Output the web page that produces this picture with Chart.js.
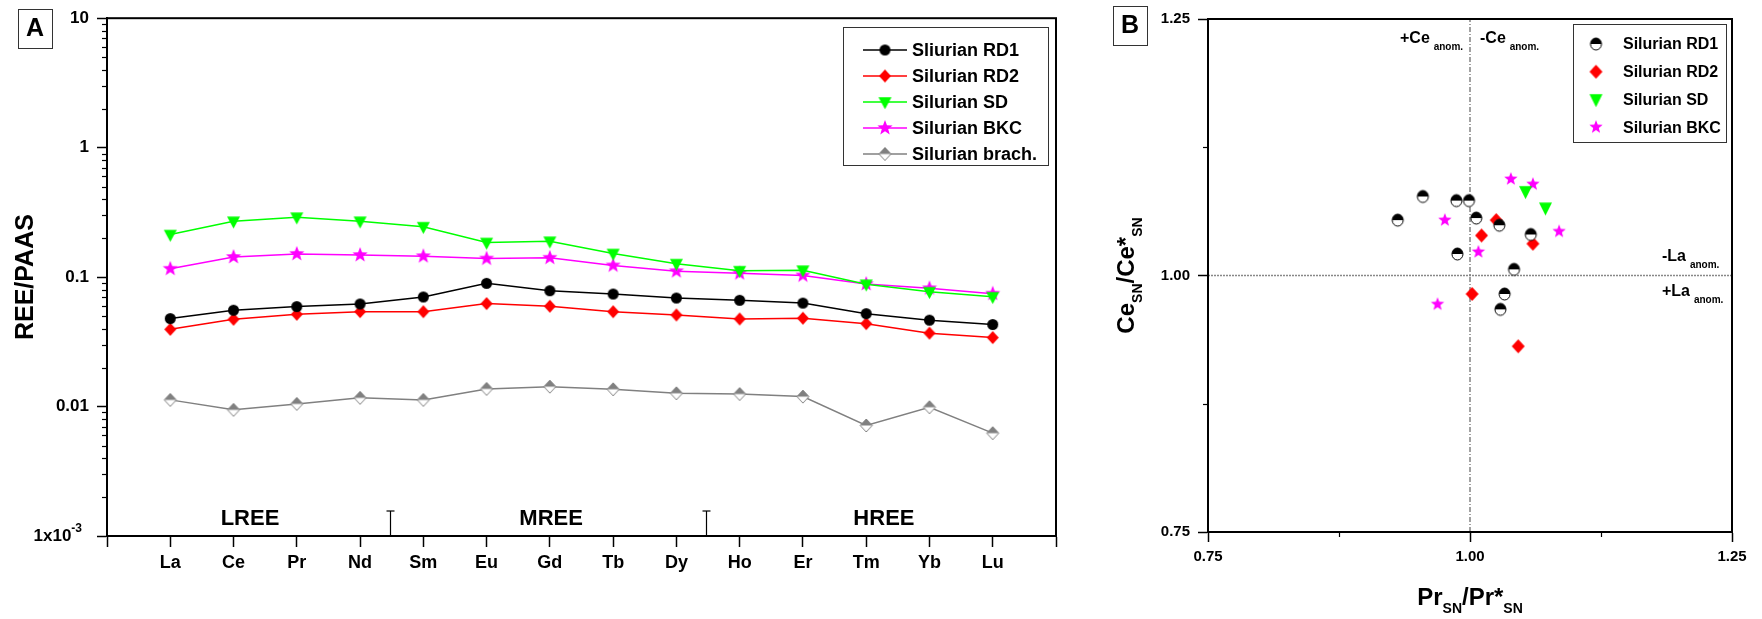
<!DOCTYPE html>
<html>
<head>
<meta charset="utf-8">
<script src="https://cdn.jsdelivr.net/npm/chart.js@4.4.1/dist/chart.umd.min.js"></script>
<style>
  body { margin: 0; background: #fff; }
  #wrap { position: relative; width: 1762px; height: 619px; }
  canvas { position: absolute; top: 0; }
  #chartA { left: 0; }
  #chartB { left: 1080px; }
</style>
</head>
<body>
<div id="wrap">
  <canvas id="chartA" width="1080" height="619"></canvas>
  <canvas id="chartB" width="682" height="619"></canvas>
</div>
<script>
// panel A: REE/PAAS patterns
const elements = ['La', 'Ce', 'Pr', 'Nd', 'Sm', 'Eu', 'Gd', 'Tb', 'Dy', 'Ho', 'Er', 'Tm', 'Yb', 'Lu'];
const rd1 = [0.0478, 0.0555, 0.0592, 0.062, 0.0702, 0.0895, 0.0785, 0.074, 0.0689, 0.0662, 0.063, 0.0522, 0.0465, 0.043];
const rd2 = [0.0395, 0.0472, 0.0516, 0.0541, 0.054, 0.0624, 0.0596, 0.054, 0.051, 0.0475, 0.0481, 0.0437, 0.0369, 0.0341];
const sd = [0.213, 0.27, 0.29, 0.27, 0.245, 0.185, 0.189, 0.152, 0.127, 0.112, 0.113, 0.088, 0.077, 0.0705];
const bkc = [0.116, 0.143, 0.151, 0.148, 0.145, 0.139, 0.141, 0.123, 0.111, 0.107, 0.103, 0.0885, 0.082, 0.0745];
const brach = [0.01126, 0.00943, 0.01048, 0.01167, 0.01126, 0.01368, 0.01425, 0.01359, 0.01266, 0.0125, 0.01194, 0.00714, 0.00988, 0.00623];
const yTicksA = [0.001, 0.01, 0.1, 1, 10];

// panel B: Ce/Ce* vs Pr/Pr*
const rd1Pr = [0.931, 0.955, 0.987, 0.999, 1.006, 1.028, 1.058, 0.988, 1.042, 1.033, 1.029];
const rd1Ce = [1.054, 1.077, 1.073, 1.073, 1.056, 1.049, 1.040, 1.021, 1.006, 0.982, 0.967];
const rd2Pr = [1.025, 1.011, 1.060, 1.002, 1.046];
const rd2Ce = [1.054, 1.039, 1.031, 0.982, 0.931];
const sdPr = [1.053, 1.072];
const sdCe = [1.082, 1.066];
const bkcPr = [1.039, 1.060, 0.976, 1.085, 1.008, 0.969];
const bkcCe = [1.094, 1.089, 1.054, 1.043, 1.023, 0.972];
const ticksB = [0.75, 0.875, 1, 1.125, 1.25];

const FONT = "'Liberation Sans', Arial, sans-serif";
Chart.defaults.font.family = FONT;
Chart.defaults.color = '#000';

function drawShape(g, kind, color, x, y, w, h) {
    g.save();
    g.lineWidth = 1;
    g.beginPath();
    if (kind === 'circle' || kind === 'halfCircle') {
        g.ellipse(x, y, w / 2, h / 2, 0, 0, Math.PI * 2);
    } else if (kind === 'diamond' || kind === 'splitDiamond') {
        g.moveTo(x, y - h / 2); g.lineTo(x + w / 2, y); g.lineTo(x, y + h / 2); g.lineTo(x - w / 2, y);
        g.closePath();
    } else if (kind === 'triDown') {
        g.moveTo(x - w / 2, y - h * 0.4); g.lineTo(x + w / 2, y - h * 0.4); g.lineTo(x, y + h * 0.6);
        g.closePath();
    } else if (kind === 'star') {
        const R = w / 2, r = R * 0.42;
        for (let i = 0; i < 10; i++) {
            const ang = -Math.PI / 2 + i * Math.PI / 5;
            const rr = i % 2 ? r : R;
            g.lineTo(x + rr * Math.cos(ang), y + rr * Math.sin(ang));
        }
        g.closePath();
    }
    if (kind === 'splitDiamond' || kind === 'halfCircle') {
        const top = kind === 'splitDiamond' ? '#808080' : '#000';
        g.fillStyle = '#fff';
        g.fill();
        g.save();
        g.clip();
        g.fillStyle = top;
        g.fillRect(x - w, y - h, w * 2, h);
        g.restore();
        g.strokeStyle = top;
        g.stroke();
    } else {
        g.fillStyle = color;
        g.fill();
    }
    g.restore();
}

function markerCanvas(kind, color, w, h) {
    const c = document.createElement('canvas');
    c.width = w + 4;
    c.height = h + 4;
    drawShape(c.getContext('2d'), kind, color, c.width / 2, c.height / 2, w, h);
    return c;
}

function line(ctx, x1, y1, x2, y2) {
    ctx.beginPath(); ctx.moveTo(x1, y1); ctx.lineTo(x2, y2); ctx.stroke();
}

// text made of pieces: [text, size, dy]
function drawParts(ctx, parts, x, y, align) {
    let total = 0;
    parts.forEach(p => { ctx.font = `bold ${p[1]}px ${FONT}`; total += ctx.measureText(p[0]).width; });
    let cx = align === 'center' ? x - total / 2 : x;
    ctx.textAlign = 'left';
    ctx.textBaseline = 'alphabetic';
    parts.forEach(p => {
        ctx.font = `bold ${p[1]}px ${FONT}`;
        ctx.fillText(p[0], cx, y + (p[2] || 0));
        cx += ctx.measureText(p[0]).width;
    });
}

function labelBox(ctx, text, x1, y1, x2, y2) {
    ctx.strokeStyle = '#333';
    ctx.lineWidth = 1;
    ctx.strokeRect(x1 + 0.5, y1 + 0.5, x2 - x1, y2 - y1);
    ctx.fillStyle = '#000';
    ctx.font = `bold 25px ${FONT}`;
    ctx.textAlign = 'center';
    ctx.textBaseline = 'middle';
    ctx.fillText(text, (x1 + x2) / 2, (y1 + y2) / 2 + 1);
}

const series = vals => vals.map((v, i) => ({ x: i, y: v }));
const zip = (xs, ys) => xs.map((v, i) => ({ x: v, y: ys[i] }));

const decorA = {
    id: 'decorA',
    afterDraw(chart) {
        const { ctx, chartArea: a, scales: { x, y } } = chart;
        ctx.save();
        ctx.strokeStyle = '#000';
        ctx.lineWidth = 2;
        ctx.strokeRect(a.left, a.top, a.right - a.left, a.bottom - a.top);

        // minor log ticks
        ctx.lineWidth = 1.2;
        for (let d = -3; d < 1; d++) {
            for (let m = 2; m < 10; m++) {
                const py = Math.round(y.getPixelForValue(m * Math.pow(10, d))) + 0.5;
                line(ctx, a.left - 5, py, a.left, py);
            }
        }

        // 1x10^-3 label
        ctx.fillStyle = '#000';
        ctx.font = `bold 12px ${FONT}`;
        const supW = ctx.measureText('-3').width;
        ctx.textAlign = 'right';
        ctx.textBaseline = 'middle';
        ctx.fillText('-3', 82, a.bottom - 7);
        ctx.font = `bold 17px ${FONT}`;
        ctx.fillText('1x10', 82 - supW, a.bottom);

        // LREE / MREE / HREE separators
        ctx.lineWidth = 1.2;
        [3.47, 8.47].forEach(v => {
            const px = Math.round(x.getPixelForValue(v)) + 0.5;
            line(ctx, px, a.bottom, px, a.bottom - 25);
            line(ctx, px - 4, a.bottom - 25, px + 4, a.bottom - 25);
        });
        ctx.font = `bold 22px ${FONT}`;
        ctx.textAlign = 'center';
        ctx.textBaseline = 'middle';
        [['LREE', 1.26], ['MREE', 6.02], ['HREE', 11.28]].forEach(([t, v]) => {
            ctx.fillText(t, x.getPixelForValue(v), a.bottom - 17);
        });

        // legend
        ctx.strokeStyle = '#333';
        ctx.lineWidth = 1;
        ctx.strokeRect(843.5, 27.5, 205, 138);
        chart.data.datasets.forEach((ds, i) => {
            const ly = 50 + i * 26;
            ctx.strokeStyle = ds.borderColor;
            ctx.lineWidth = 1.5;
            line(ctx, 863, ly, 907, ly);
            const img = ds.pointStyle;
            ctx.drawImage(img, 885 - img.width / 2, ly - img.height / 2);
            ctx.fillStyle = '#000';
            ctx.font = `bold 18px ${FONT}`;
            ctx.textAlign = 'left';
            ctx.textBaseline = 'middle';
            ctx.fillText(ds.label, 912, ly + 1);
        });

        labelBox(ctx, 'A', 18, 9, 52, 48);
        ctx.restore();
    }
};

const decorB = {
    id: 'decorB',
    afterDraw(chart) {
        const { ctx, chartArea: a, scales: { x, y } } = chart;
        ctx.save();
        ctx.strokeStyle = '#000';
        ctx.lineWidth = 2;
        ctx.strokeRect(a.left, a.top, a.right - a.left, a.bottom - a.top);

        // short middle ticks
        ctx.lineWidth = 1.2;
        [0.875, 1.125].forEach(v => {
            const px = Math.round(x.getPixelForValue(v)) + 0.5;
            line(ctx, px, a.bottom, px, a.bottom + 5);
            const py = Math.round(y.getPixelForValue(v)) + 0.5;
            line(ctx, a.left - 5, py, a.left, py);
        });

        // axis titles
        ctx.fillStyle = '#000';
        drawParts(ctx, [['Pr', 24], ['SN', 14, 8], ['/Pr*', 24], ['SN', 14, 8]], x.getPixelForValue(1), 605, 'center');
        ctx.save();
        ctx.translate(54, (a.top + a.bottom) / 2);
        ctx.rotate(-Math.PI / 2);
        drawParts(ctx, [['Ce', 24], ['SN', 14, 8], ['/Ce*', 24], ['SN', 14, 8]], 0, 0, 'center');
        ctx.restore();

        // anomaly notes
        drawParts(ctx, [['+Ce', 16], [' ', 14], ['anom.', 10, 7]], 320, 43, 'left');
        drawParts(ctx, [['-Ce', 16], [' ', 14], ['anom.', 10, 7]], 400, 43, 'left');
        drawParts(ctx, [['-La', 16], [' ', 14], ['anom.', 10, 7]], 582, 261, 'left');
        drawParts(ctx, [['+La', 16], [' ', 14], ['anom.', 10, 7]], 582, 296, 'left');

        // legend
        ctx.strokeStyle = '#333';
        ctx.lineWidth = 1;
        ctx.strokeRect(493.5, 24.5, 153, 118);
        chart.data.datasets.filter(ds => !ds.guide).forEach((ds, i) => {
            const ly = 44 + i * 27.7;
            const img = ds.pointStyle;
            ctx.drawImage(img, 516 - img.width / 2, ly - img.height / 2);
            ctx.fillStyle = '#000';
            ctx.font = `bold 16px ${FONT}`;
            ctx.textAlign = 'left';
            ctx.textBaseline = 'middle';
            ctx.fillText(ds.label, 543, ly + 1);
        });

        labelBox(ctx, 'B', 33, 6, 67, 45);
        ctx.restore();
    }
};

new Chart(document.getElementById('chartA'), {
    type: 'scatter',
    data: {
        datasets: [
            { label: 'Sliurian RD1', data: series(rd1), borderColor: '#000', pointStyle: markerCanvas('circle', '#000', 11, 11) },
            { label: 'Silurian RD2', data: series(rd2), borderColor: '#ff0000', pointStyle: markerCanvas('diamond', '#ff0000', 12, 13) },
            { label: 'Silurian SD', data: series(sd), borderColor: '#00ff00', pointStyle: markerCanvas('triDown', '#00ff00', 13, 12) },
            { label: 'Silurian BKC', data: series(bkc), borderColor: '#ff00ff', pointStyle: markerCanvas('star', '#ff00ff', 16, 16) },
            { label: 'Silurian brach.', data: series(brach), borderColor: '#808080', pointStyle: markerCanvas('splitDiamond', '#808080', 12, 13) }
        ].map(ds => Object.assign(ds, { showLine: true, borderWidth: 1.5, pointRadius: 6 }))
    },
    options: {
        responsive: false,
        animation: false,
        events: [],
        layout: { padding: { top: 17, right: 24, left: 0, bottom: 0 } },
        plugins: { legend: { display: false }, tooltip: { enabled: false } },
        scales: {
            x: {
                type: 'linear', min: -1, max: 14,
                afterBuildTicks: s => { s.ticks = Array.from({ length: 16 }, (_, i) => ({ value: i - 1 })); },
                afterFit: s => { s.height = 83; },
                ticks: { callback: v => elements[v] || '', font: { size: 18, weight: 'bold' }, padding: 5, maxRotation: 0, autoSkip: false },
                grid: { drawOnChartArea: false, tickLength: 11, tickColor: '#000', tickWidth: 1.5 },
                border: { color: '#000', width: 2 }
            },
            y: {
                type: 'logarithmic', min: 0.001, max: 10,
                afterBuildTicks: s => { s.ticks = yTicksA.map(v => ({ value: v })); },
                afterFit: s => { s.width = 107; },
                ticks: {
                    callback: v => ({ 10: '10', 1: '1', 0.1: '0.1', 0.01: '0.01' })[v] || '',
                    font: { size: 17, weight: 'bold' }, padding: 8
                },
                grid: { drawOnChartArea: false, tickLength: 10, tickColor: '#000', tickWidth: 1.5 },
                border: { color: '#000', width: 2 },
                title: { display: true, text: 'REE/PAAS', font: { size: 25, weight: 'bold' }, padding: { top: 11, bottom: 0 } }
            }
        }
    },
    plugins: [decorA]
});

new Chart(document.getElementById('chartB'), {
    type: 'scatter',
    data: {
        datasets: [
            { label: 'Silurian RD1', data: zip(rd1Pr, rd1Ce), pointStyle: markerCanvas('halfCircle', '#000', 11, 12) },
            { label: 'Silurian RD2', data: zip(rd2Pr, rd2Ce), pointStyle: markerCanvas('diamond', '#ff0000', 13, 14) },
            { label: 'Silurian SD', data: zip(sdPr, sdCe), pointStyle: markerCanvas('triDown', '#00ff00', 13, 13) },
            { label: 'Silurian BKC', data: zip(bkcPr, bkcCe), pointStyle: markerCanvas('star', '#ff00ff', 14, 14) },
            { guide: true, data: [{ x: 1, y: 0.75 }, { x: 1, y: 1.25 }], showLine: true, pointRadius: 0, borderColor: '#444', borderWidth: 1, borderDash: [5, 2, 1, 2] },
            { guide: true, data: [{ x: 0.75, y: 1 }, { x: 1.25, y: 1 }], showLine: true, pointRadius: 0, borderColor: '#888', borderWidth: 1.3, borderDash: [2, 1] }
        ].map(ds => Object.assign({ pointRadius: 6 }, ds))
    },
    options: {
        responsive: false,
        animation: false,
        events: [],
        layout: { padding: { top: 19, right: 30, left: 0, bottom: 0 } },
        plugins: { legend: { display: false }, tooltip: { enabled: false } },
        scales: {
            x: {
                type: 'linear', min: 0.75, max: 1.25,
                afterBuildTicks: s => { s.ticks = ticksB.map(v => ({ value: v })); },
                afterFit: s => { s.height = 87; },
                ticks: { callback: v => (v * 4) % 1 === 0 ? v.toFixed(2) : '', font: { size: 15, weight: 'bold' }, padding: 6, maxRotation: 0, autoSkip: false },
                grid: { drawOnChartArea: false, tickLength: 10, tickWidth: 1.5, tickColor: c => (c.tick && (c.tick.value * 4) % 1 !== 0) ? 'rgba(0,0,0,0)' : '#000' },
                border: { color: '#000', width: 2 }
            },
            y: {
                type: 'linear', min: 0.75, max: 1.25,
                afterBuildTicks: s => { s.ticks = ticksB.map(v => ({ value: v })); },
                afterFit: s => { s.width = 128; },
                ticks: { callback: v => (v * 4) % 1 === 0 ? v.toFixed(2) : '', font: { size: 15, weight: 'bold' }, padding: 8, autoSkip: false },
                grid: { drawOnChartArea: false, tickLength: 10, tickWidth: 1.5, tickColor: c => (c.tick && (c.tick.value * 4) % 1 !== 0) ? 'rgba(0,0,0,0)' : '#000' },
                border: { color: '#000', width: 2 }
            }
        }
    },
    plugins: [decorB]
});
</script>
</body>
</html>
